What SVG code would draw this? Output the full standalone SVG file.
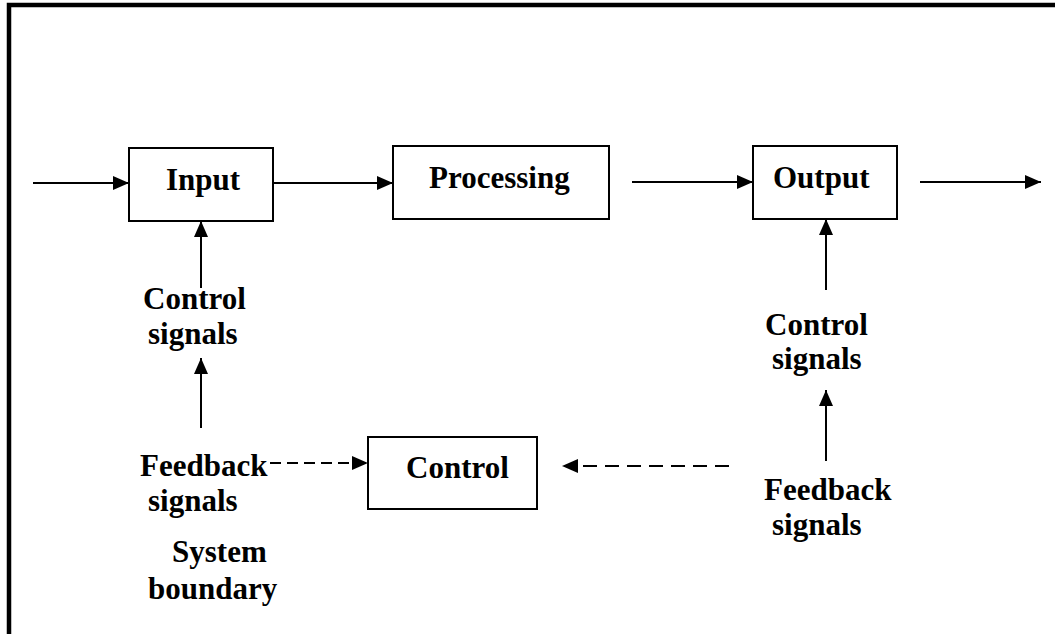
<svg xmlns="http://www.w3.org/2000/svg" width="1055" height="634" viewBox="0 0 1055 634">
  <style>
    .box { fill: #fff; stroke: #000; stroke-width: 2; }
    .lbl { font-family: "Liberation Serif", "Times New Roman", serif; font-weight: bold; font-size: 31px; fill: #000; }
    .wire { stroke: #000; stroke-width: 2; fill: none; }
    .dash { stroke: #000; stroke-width: 2; fill: none; }
  </style>
  <defs>
    <marker id="arrow" markerUnits="userSpaceOnUse" markerWidth="18" markerHeight="16" refX="16" refY="7" orient="auto">
      <path d="M0,0 L16,7 L0,14 Z" fill="#000"/>
    </marker>
  </defs>

  <rect width="1055" height="634" fill="#fff"/>

  <!-- system boundary frame (open on the right and bottom) -->
  <path id="boundary" d="M9,634 V5 H1055" fill="none" stroke="#000" stroke-width="4.5"/>

  <g id="node-input">
    <rect class="box" x="129" y="148" width="144" height="73"/>
    <text class="lbl" x="166" y="190">Input</text>
  </g>
  <g id="node-processing">
    <rect class="box" x="393" y="146" width="216" height="73"/>
    <text class="lbl" x="429" y="188">Processing</text>
  </g>
  <g id="node-output">
    <rect class="box" x="753" y="146" width="144" height="73"/>
    <text class="lbl" x="773" y="188">Output</text>
  </g>
  <g id="node-control">
    <rect class="box" x="368" y="437" width="169" height="72"/>
    <text class="lbl" x="406" y="478">Control</text>
  </g>

  <g id="labels">
    <text class="lbl" x="143" y="309">Control</text>
    <text class="lbl" x="148" y="344">signals</text>
    <text class="lbl" x="765" y="335">Control</text>
    <text class="lbl" x="772" y="369">signals</text>
    <text class="lbl" x="140" y="476">Feedback</text>
    <text class="lbl" x="148" y="511">signals</text>
    <text class="lbl" x="764" y="500">Feedback</text>
    <text class="lbl" x="772" y="535">signals</text>
    <text class="lbl" x="172" y="562">System</text>
    <text class="lbl" x="148" y="599">boundary</text>
  </g>

  <g id="connectors">
    <!-- main flow -->
    <line class="wire" x1="33" y1="183" x2="129" y2="183" marker-end="url(#arrow)"/>
    <line class="wire" x1="273" y1="183" x2="393" y2="183" marker-end="url(#arrow)"/>
    <line class="wire" x1="632" y1="182" x2="753" y2="182" marker-end="url(#arrow)"/>
    <line class="wire" x1="920" y1="182" x2="1041" y2="182" marker-end="url(#arrow)"/>
    <!-- control signals into input -->
    <line class="wire" x1="201" y1="288" x2="201" y2="221" marker-end="url(#arrow)"/>
    <line class="wire" x1="201" y1="428" x2="201" y2="358" marker-end="url(#arrow)"/>
    <!-- control signals into output -->
    <line class="wire" x1="826" y1="290" x2="826" y2="219" marker-end="url(#arrow)"/>
    <line class="wire" x1="826" y1="461" x2="826" y2="390" marker-end="url(#arrow)"/>
    <!-- feedback into control -->
    <line class="dash" x1="270" y1="463" x2="368" y2="463" stroke-dasharray="11 6" marker-end="url(#arrow)"/>
    <line class="dash" x1="729" y1="466" x2="583" y2="466" stroke-dasharray="14 8"/>
    <path d="M578,459 L562,466 L578,473 Z" fill="#000"/>
  </g>
</svg>
